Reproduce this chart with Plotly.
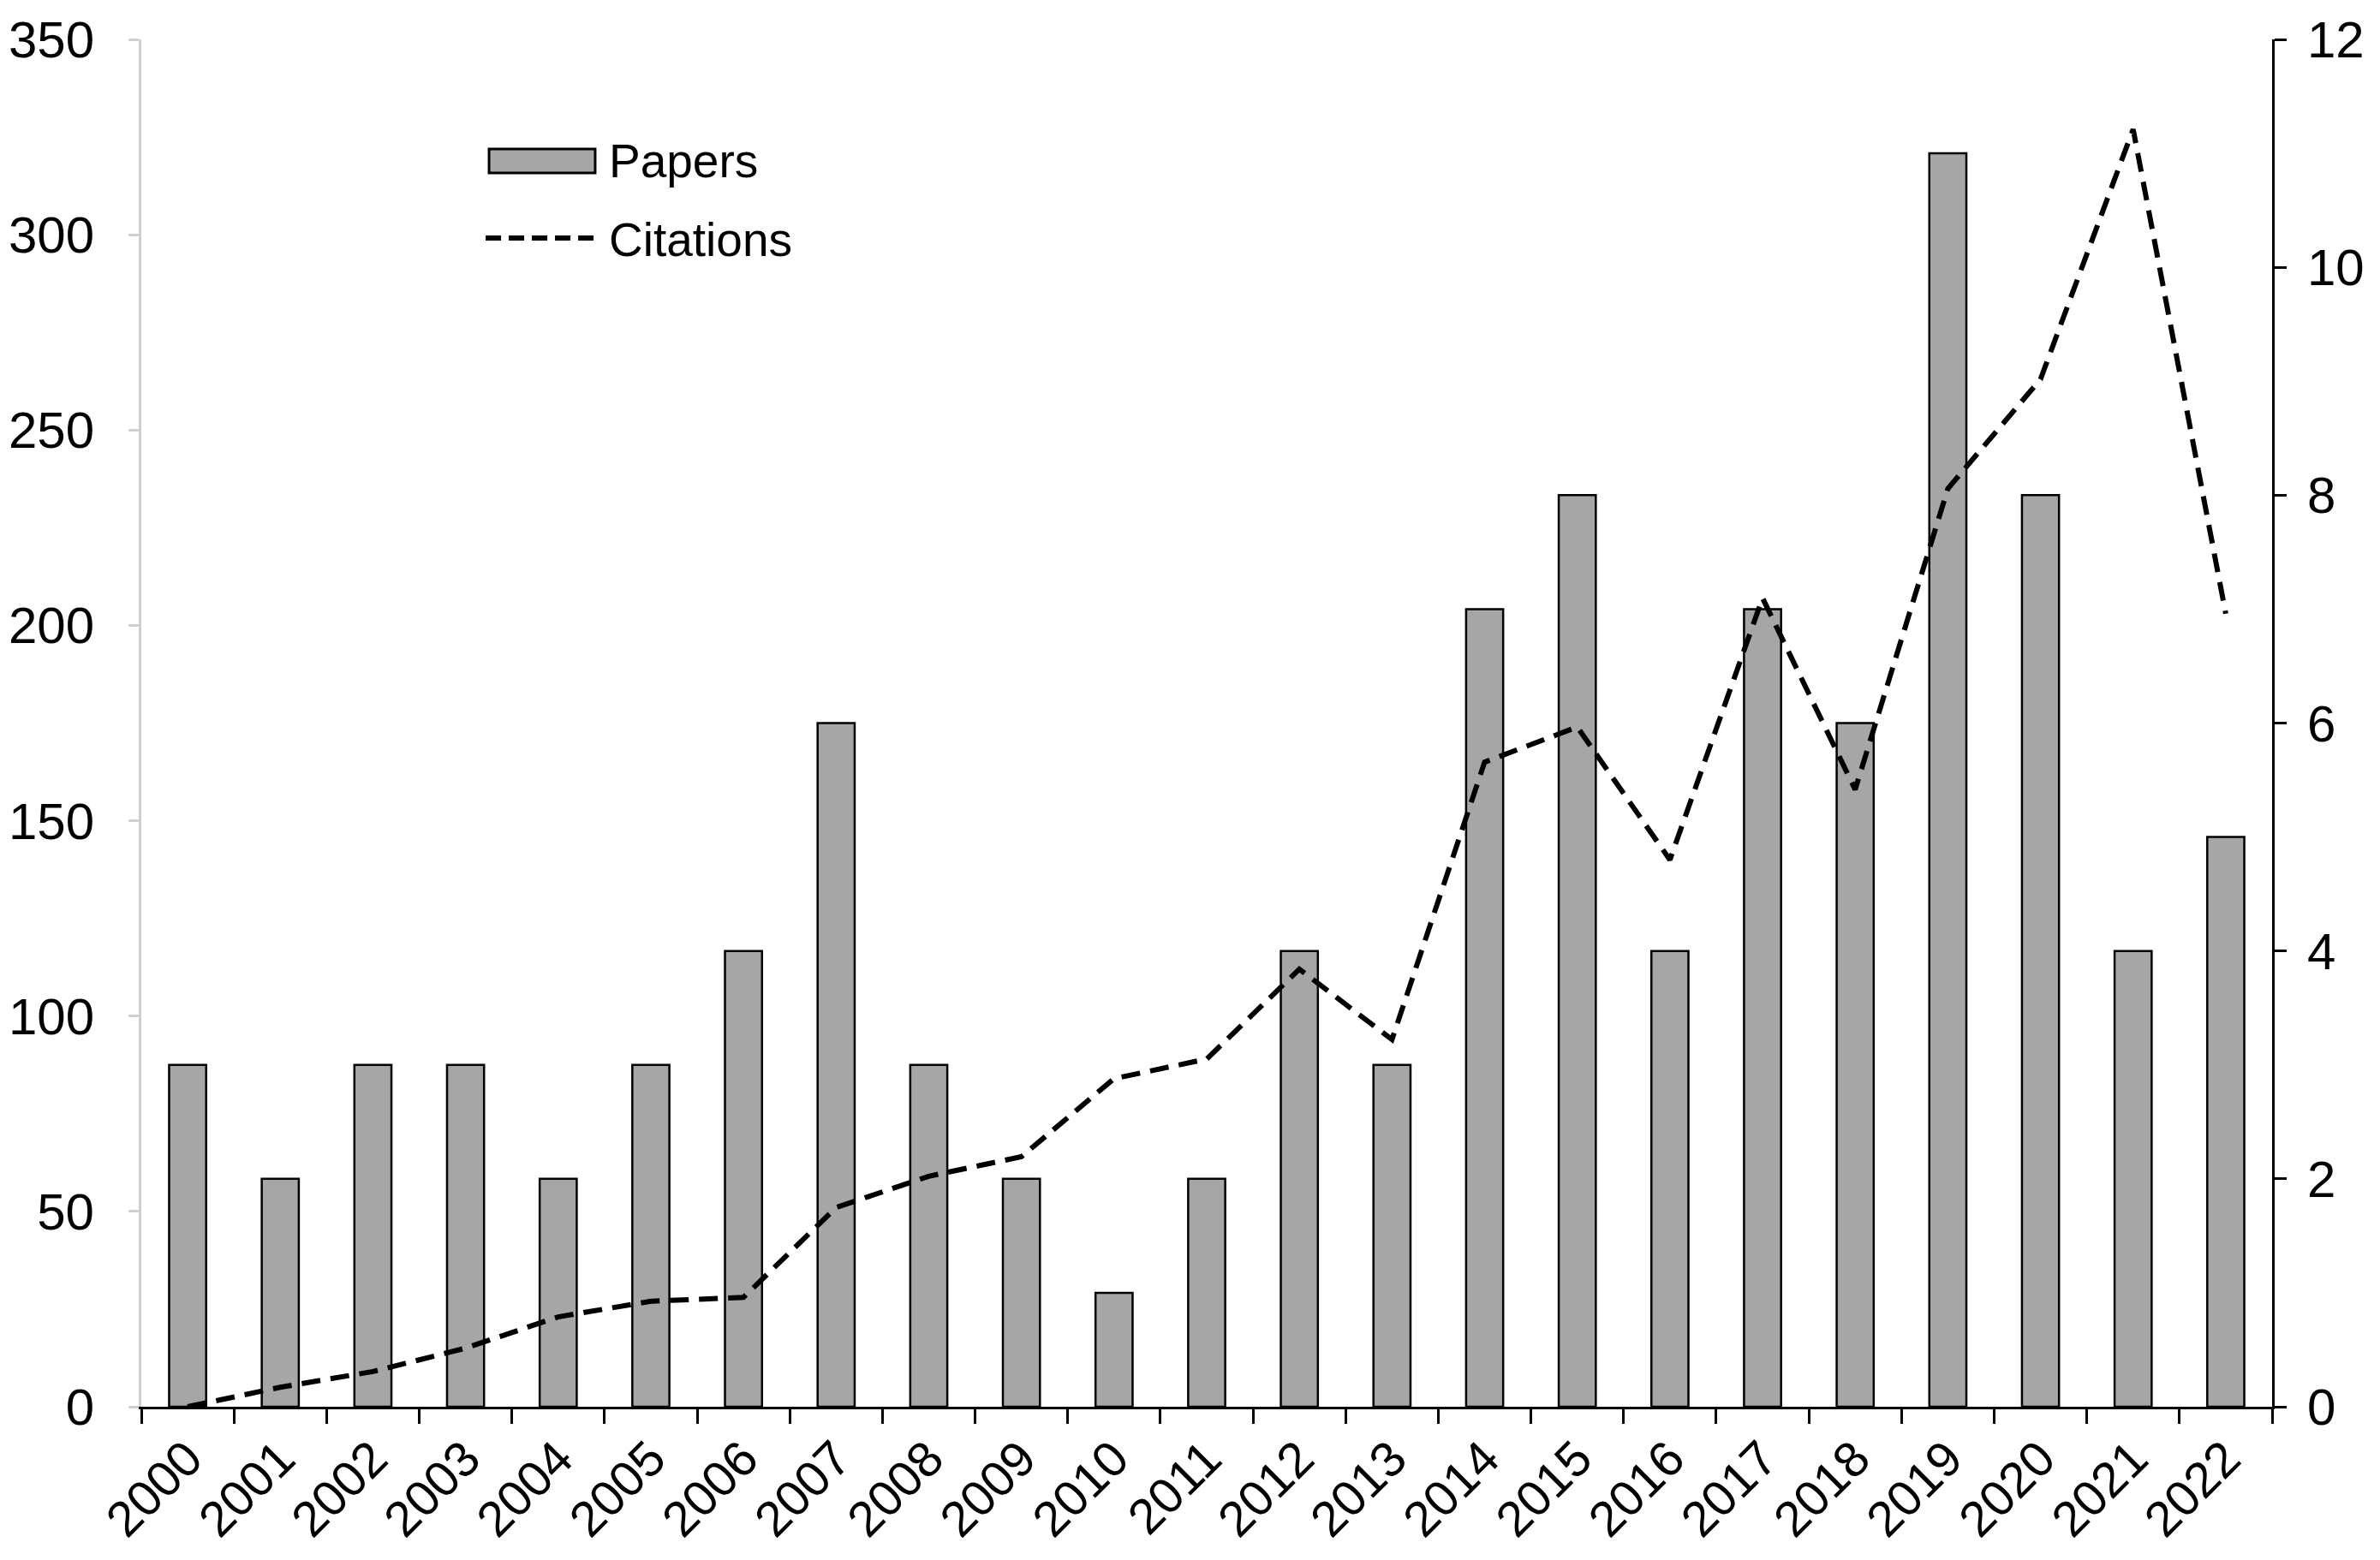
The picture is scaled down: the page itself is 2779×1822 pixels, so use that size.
import plotly.graph_objects as go

years = [str(y) for y in range(2000, 2023)]
papers = [3, 2, 3, 3, 2, 3, 4, 6, 3, 2, 1, 2, 4, 3, 7, 8, 4, 7, 6, 11, 8, 4, 5]
citations = [0, 5, 9, 15, 23, 27, 28, 51, 59, 64, 84, 89, 112, 94, 165, 174, 140,
             207, 158, 235, 263, 327, 203]

font_family = "Liberation Sans, Arial, sans-serif"
fsize = 60

# bars on the primary axis (drawn first), line on the overlay so it sits on top
bars = go.Bar(x=years, y=papers, name='Papers', yaxis='y',
              marker=dict(color='#a6a6a6', line=dict(color='black', width=2.5)),
              showlegend=False)
line = go.Scatter(x=years, y=citations, name='Citations', yaxis='y2',
                  mode='lines', line=dict(color='black', width=6, dash='22px,12px'),
                  showlegend=False)

fig = go.Figure(data=[bars, line])

# page body has an 8px margin, so the figure is a bit smaller than the window
fig.update_layout(
    width=2763, height=1806,
    margin=dict(l=157, r=118, t=38, b=171),
    paper_bgcolor='white', plot_bgcolor='white',
    font=dict(family=font_family, size=fsize, color='black'),
    bargap=0.6,
    xaxis=dict(type='category', range=[-0.5, 22.5], tickangle=-45, automargin=False,
               tickson='boundaries', ticks='outside', ticklen=17, tickwidth=3,
               tickcolor='black', showline=True, linecolor='black', linewidth=3,
               showgrid=False, zeroline=False, ticklabelstandoff=0,
               tickfont=dict(size=58)),
    # papers: right side
    yaxis=dict(range=[0, 12], dtick=2, side='right', showgrid=False, zeroline=False,
               automargin=False,
               showline=True, linecolor='black', linewidth=3, ticks='outside',
               ticklen=14, tickwidth=3, tickcolor='black', ticklabelstandoff=12),
    # citations: left side
    yaxis2=dict(range=[0, 350], dtick=50, side='left', overlaying='y',
                automargin=False,
                showgrid=False, zeroline=False, showline=True, linecolor='#d0d0d0',
                linewidth=3, ticks='outside', ticklen=12, tickwidth=3,
                tickcolor='#d0d0d0', ticklabelstandoff=28),
)

# legend drawn by hand so the symbols match the original proportions
fig.add_shape(type='rect', xref='paper', yref='paper',
              x0=0.1632, x1=0.2130, y0=0.9023, y1=0.9198,
              fillcolor='#a6a6a6', line=dict(color='black', width=3))
fig.add_shape(type='line', xref='paper', yref='paper',
              x0=0.1616, x1=0.2150, y0=0.8547, y1=0.8547,
              line=dict(color='black', width=6, dash='18px,9px'))
fig.add_annotation(text='Papers', xref='paper', yref='paper', x=0.2185, y=0.9111,
                   xanchor='left', yanchor='middle', showarrow=False,
                   font=dict(size=55))
fig.add_annotation(text='Citations', xref='paper', yref='paper', x=0.2185, y=0.8535,
                   xanchor='left', yanchor='middle', showarrow=False,
                   font=dict(size=55))

fig.write_html("out.html")
